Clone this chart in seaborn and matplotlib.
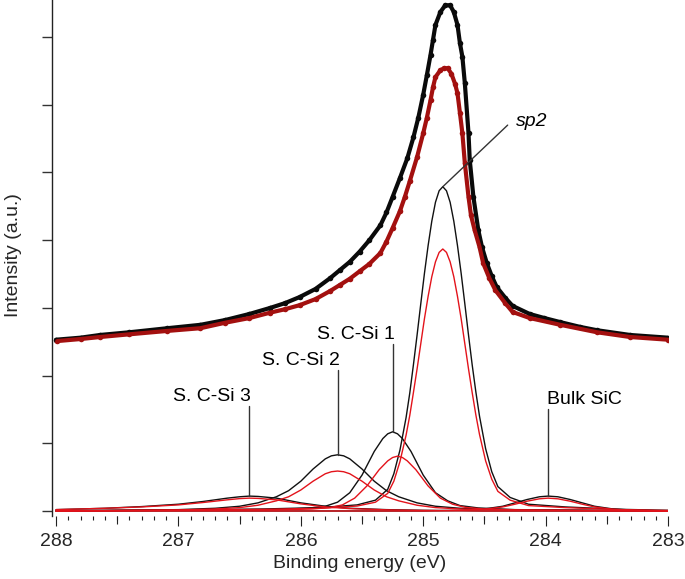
"""
XPS C 1s: espectros medidos (puntos) y componentes ajustadas.
"""

import matplotlib
matplotlib.use("Agg")
import matplotlib.pyplot as plt
from matplotlib.ticker import MultipleLocator
import numpy as np
import pandas as pd
import seaborn as sns

# espectros medidos (con fondo), muestra A (negro) y B (rojo)
energy_a = [288.00, 287.80, 287.64, 287.40, 287.09, 286.82, 286.62, 286.42, 286.25,
            286.13, 286.01, 285.88, 285.76, 285.68, 285.60, 285.52, 285.44, 285.35,
            285.30, 285.25, 285.19, 285.13, 285.08, 285.04, 285.00, 284.97, 284.94,
            284.92, 284.90, 284.86, 284.82, 284.78, 284.75, 284.72, 284.70, 284.68,
            284.66, 284.63, 284.62, 284.59, 284.55, 284.52, 284.48, 284.44, 284.40,
            284.33, 284.27, 284.13, 284.01, 283.88, 283.72, 283.58, 283.31, 283.00]
intensity_a = [2.53, 2.56, 2.60, 2.64, 2.70, 2.75, 2.82, 2.91, 3.00,
               3.07, 3.16, 3.28, 3.44, 3.56, 3.68, 3.83, 4.00, 4.22,
               4.41, 4.64, 4.92, 5.21, 5.52, 5.81, 6.15, 6.44, 6.74,
               6.96, 7.18, 7.37, 7.47, 7.47, 7.37, 7.18, 6.91, 6.71,
               6.32, 5.58, 5.19, 4.64, 4.15, 3.90, 3.66, 3.47, 3.31,
               3.15, 3.03, 2.91, 2.85, 2.79, 2.72, 2.67, 2.60, 2.56]

energy_b = [287.99, 287.80, 287.64, 287.40, 287.09, 286.82, 286.62, 286.42, 286.25,
            286.13, 286.01, 285.88, 285.76, 285.68, 285.60, 285.52, 285.44, 285.35,
            285.30, 285.25, 285.19, 285.15, 285.11, 285.05, 285.00, 284.97, 284.94,
            284.92, 284.90, 284.86, 284.83, 284.80, 284.77, 284.74, 284.72, 284.70,
            284.68, 284.66, 284.63, 284.61, 284.58, 284.54, 284.51, 284.46, 284.41,
            284.33, 284.27, 284.13, 283.88, 283.58, 283.31, 283.00]
intensity_b = [2.51, 2.54, 2.57, 2.61, 2.66, 2.70, 2.78, 2.85, 2.93,
               2.98, 3.04, 3.13, 3.25, 3.34, 3.43, 3.54, 3.65, 3.81,
               3.98, 4.18, 4.43, 4.64, 4.87, 5.23, 5.58, 5.81, 6.07,
               6.26, 6.41, 6.51, 6.54, 6.54, 6.46, 6.31, 6.17, 5.88,
               5.58, 5.14, 4.64, 4.37, 4.15, 3.90, 3.66, 3.44, 3.26,
               3.07, 2.94, 2.85, 2.75, 2.64, 2.57, 2.53]

# componentes ajustadas (sin fondo)
sp2_energy = [288.0, 287.0, 286.3, 285.84, 285.54, 285.39, 285.29, 285.24, 285.19,
              285.14, 285.11, 285.08, 285.05, 285.02, 284.99, 284.96, 284.93, 284.90,
              284.87, 284.84, 284.81, 284.78, 284.75, 284.72, 284.69, 284.66, 284.63,
              284.60, 284.57, 284.54, 284.49, 284.44, 284.39, 284.29, 284.14, 283.84,
              283.4, 283.0]
sp2_a = [0.005, 0.015, 0.03, 0.05, 0.09, 0.16, 0.32, 0.55, 0.90,
         1.38, 1.74, 2.16, 2.60, 3.06, 3.51, 3.92, 4.28, 4.56,
         4.73, 4.79, 4.73, 4.56, 4.28, 3.92, 3.51, 3.06, 2.60,
         2.16, 1.76, 1.40, 0.92, 0.58, 0.36, 0.20, 0.10, 0.06,
         0.025, 0.01]
sp2_b = [0.004, 0.012, 0.024, 0.04, 0.073, 0.13, 0.26, 0.44, 0.73,
         1.12, 1.41, 1.75, 2.10, 2.47, 2.84, 3.17, 3.46, 3.68,
         3.82, 3.87, 3.82, 3.68, 3.46, 3.17, 2.84, 2.47, 2.10,
         1.75, 1.42, 1.13, 0.74, 0.47, 0.29, 0.16, 0.08, 0.05,
         0.02, 0.008]

s1_energy_a = [288.0, 286.25, 285.95, 285.80, 285.70, 285.60, 285.50, 285.40, 285.33,
               285.29, 285.25, 285.21, 285.17, 285.10, 285.00, 284.90, 284.80, 284.70,
               284.55, 284.25, 283.0]
s1_a = [0.0, 0.02, 0.04, 0.07, 0.13, 0.27, 0.53, 0.88, 1.07,
        1.14, 1.17, 1.14, 1.07, 0.88, 0.53, 0.27, 0.15, 0.08,
        0.045, 0.02, 0.0]
s1_energy_b = [288.0, 286.21, 285.91, 285.76, 285.66, 285.56, 285.46, 285.36, 285.29,
               285.25, 285.21, 285.17, 285.13, 285.06, 284.96, 284.86, 284.76, 284.66,
               284.51, 284.21, 283.0]
s1_b = [0.0, 0.015, 0.03, 0.05, 0.09, 0.19, 0.37, 0.61, 0.74,
        0.79, 0.81, 0.79, 0.74, 0.61, 0.37, 0.19, 0.10, 0.055,
        0.03, 0.015, 0.0]

s2_energy = [288.0, 287.0, 286.7, 286.5, 286.35, 286.2, 286.1, 286.0, 285.9, 285.8,
             285.75, 285.7, 285.65, 285.6, 285.5, 285.4, 285.3, 285.2, 285.05, 284.9,
             284.7, 284.4, 283.0]
s2_a = [0.0, 0.02, 0.04, 0.07, 0.12, 0.21, 0.30, 0.44, 0.62, 0.77,
        0.815, 0.83, 0.815, 0.77, 0.62, 0.44, 0.30, 0.21, 0.12, 0.07,
        0.04, 0.02, 0.0]
s2_b = [0.0, 0.015, 0.03, 0.05, 0.085, 0.15, 0.21, 0.31, 0.44, 0.55,
        0.58, 0.59, 0.58, 0.55, 0.44, 0.31, 0.21, 0.15, 0.085, 0.05,
        0.03, 0.015, 0.0]

s3_energy = [288.0, 287.6, 287.3, 287.0, 286.8, 286.6, 286.5, 286.42, 286.35,
             286.2, 286.0, 285.8, 285.6, 285.3, 285.0, 284.5, 283.0]
s3_a = [0.02, 0.04, 0.065, 0.10, 0.14, 0.19, 0.21, 0.22, 0.215,
        0.19, 0.12, 0.07, 0.04, 0.02, 0.01, 0.0, 0.0]
s3_b = [0.02, 0.04, 0.06, 0.09, 0.125, 0.165, 0.183, 0.19, 0.186,
        0.165, 0.105, 0.06, 0.035, 0.017, 0.008, 0.0, 0.0]

bulk_energy = [288.0, 285.0, 284.7, 284.5, 284.35, 284.25, 284.15, 284.05, 283.98,
               283.9, 283.8, 283.7, 283.6, 283.45, 283.25, 283.0]
bulk_a = [0.0, 0.0, 0.01, 0.03, 0.07, 0.12, 0.17, 0.21, 0.22,
          0.21, 0.17, 0.12, 0.07, 0.03, 0.01, 0.0]
bulk_b = [0.0, 0.0, 0.01, 0.025, 0.06, 0.10, 0.145, 0.18, 0.19,
          0.18, 0.145, 0.10, 0.06, 0.025, 0.01, 0.0]

# etiquetas: (texto, energía del pico, altura del pico, altura del texto, alineación)
labels = [
    ("S. C-Si 3", 286.42, 0.22, 1.62, "right"),
    ("S. C-Si 2", 285.70, 0.83, 2.15, "right"),
    ("S. C-Si 1", 285.25, 1.17, 2.54, "right"),
    ("Bulk SiC", 283.98, 0.22, 1.58, "left"),
]

COL_A = "#0a0a0a"
COL_B = "#a3100f"
LINE_A = "#111111"
LINE_B = "#e3131b"


def build_frames():
    spectra = pd.concat([
        pd.DataFrame({"energy": energy_a, "intensity": intensity_a, "sample": "A"}),
        pd.DataFrame({"energy": energy_b, "intensity": intensity_b, "sample": "B"}),
    ], ignore_index=True)

    parts = [
        ("S3", "A", s3_energy, s3_a), ("S2", "A", s2_energy, s2_a),
        ("S1", "A", s1_energy_a, s1_a), ("sp2", "A", sp2_energy, sp2_a),
        ("bulk", "A", bulk_energy, bulk_a),
        ("S3", "B", s3_energy, s3_b), ("S2", "B", s2_energy, s2_b),
        ("S1", "B", s1_energy_b, s1_b), ("sp2", "B", sp2_energy, sp2_b),
        ("bulk", "B", bulk_energy, bulk_b),
    ]
    comps = pd.concat([
        pd.DataFrame({"energy": e, "intensity": v, "sample": s, "component": f"{c}_{s}"})
        for c, s, e, v in parts
    ], ignore_index=True)
    return spectra, comps


def main():
    sns.set_theme(style="ticks")
    plt.rcParams["font.family"] = ["Liberation Sans", "DejaVu Sans"]

    spectra, comps = build_frames()

    fig = plt.figure(figsize=(6.85, 5.79), dpi=100)
    ax = fig.add_axes([52 / 685, 63 / 579, 616 / 685, 516 / 579])

    # componentes: negro primero, rojo encima
    for s, col in (("A", LINE_A), ("B", LINE_B)):
        sns.lineplot(data=comps[comps["sample"] == s], x="energy", y="intensity",
                     units="component", estimator=None, color=col, lw=1.0, ax=ax)

    for s, col in (("A", COL_A), ("B", COL_B)):
        d = spectra[spectra["sample"] == s]
        sns.lineplot(data=d, x="energy", y="intensity", color=col, lw=3.0,
                     estimator=None, ax=ax)
        sns.scatterplot(data=d, x="energy", y="intensity", color=col, s=16,
                        linewidth=0, ax=ax)

    # etiquetas con línea guía
    for text, e, peak, ty, ha in labels:
        ax.plot([e, e], [peak, ty - 0.07], color="#333333", lw=1.0)
        dx = 0.015 if ha == "right" else -0.01
        ax.text(e - dx, ty, text, ha=ha, va="baseline", fontsize=14, color="black")

    ax.plot([284.84, 284.31], [4.79, 5.70], color="#333333", lw=1.0)
    ax.text(284.24, 5.76, "sp2", ha="left", va="center", fontsize=14,
            style="italic", color="black")

    ax.set_xlim(288.033, 283.0)
    ax.set_ylim(-0.074, 7.548)

    ax.xaxis.set_major_locator(MultipleLocator(1))
    ax.xaxis.set_minor_locator(MultipleLocator(0.1))
    ax.tick_params(axis="x", which="major", length=7, width=0.8, direction="out",
                   labelsize=14, pad=5, color="#222222")
    ax.tick_params(axis="x", which="minor", length=3, width=0.8, direction="out",
                   color="#222222")
    half = ax.secondary_xaxis("bottom")
    half.set_xticks(np.arange(283.5, 288.0, 1.0))
    half.tick_params(length=5.5, width=0.8, labelbottom=False, color="#222222")
    half.spines["bottom"].set_visible(False)

    ax.set_yticks(range(8))
    ax.set_yticklabels([])
    ax.tick_params(axis="y", length=7.5, width=1.0, direction="out", color="#333333")

    for side in ("top", "right", "bottom"):
        ax.spines[side].set_visible(False)
    ax.spines["left"].set_linewidth(1.0)
    ax.spines["left"].set_color("#222222")

    ax.set_xlabel("Binding energy (eV)", fontsize=14, labelpad=4)
    ax.set_ylabel("Intensity (a.u.)", fontsize=14)
    ax.yaxis.label.set_va("center")
    ax.yaxis.set_label_coords(-0.062, 0.506)

    fig.savefig("out.png", dpi=100)
    plt.close(fig)


if __name__ == "__main__":
    main()
